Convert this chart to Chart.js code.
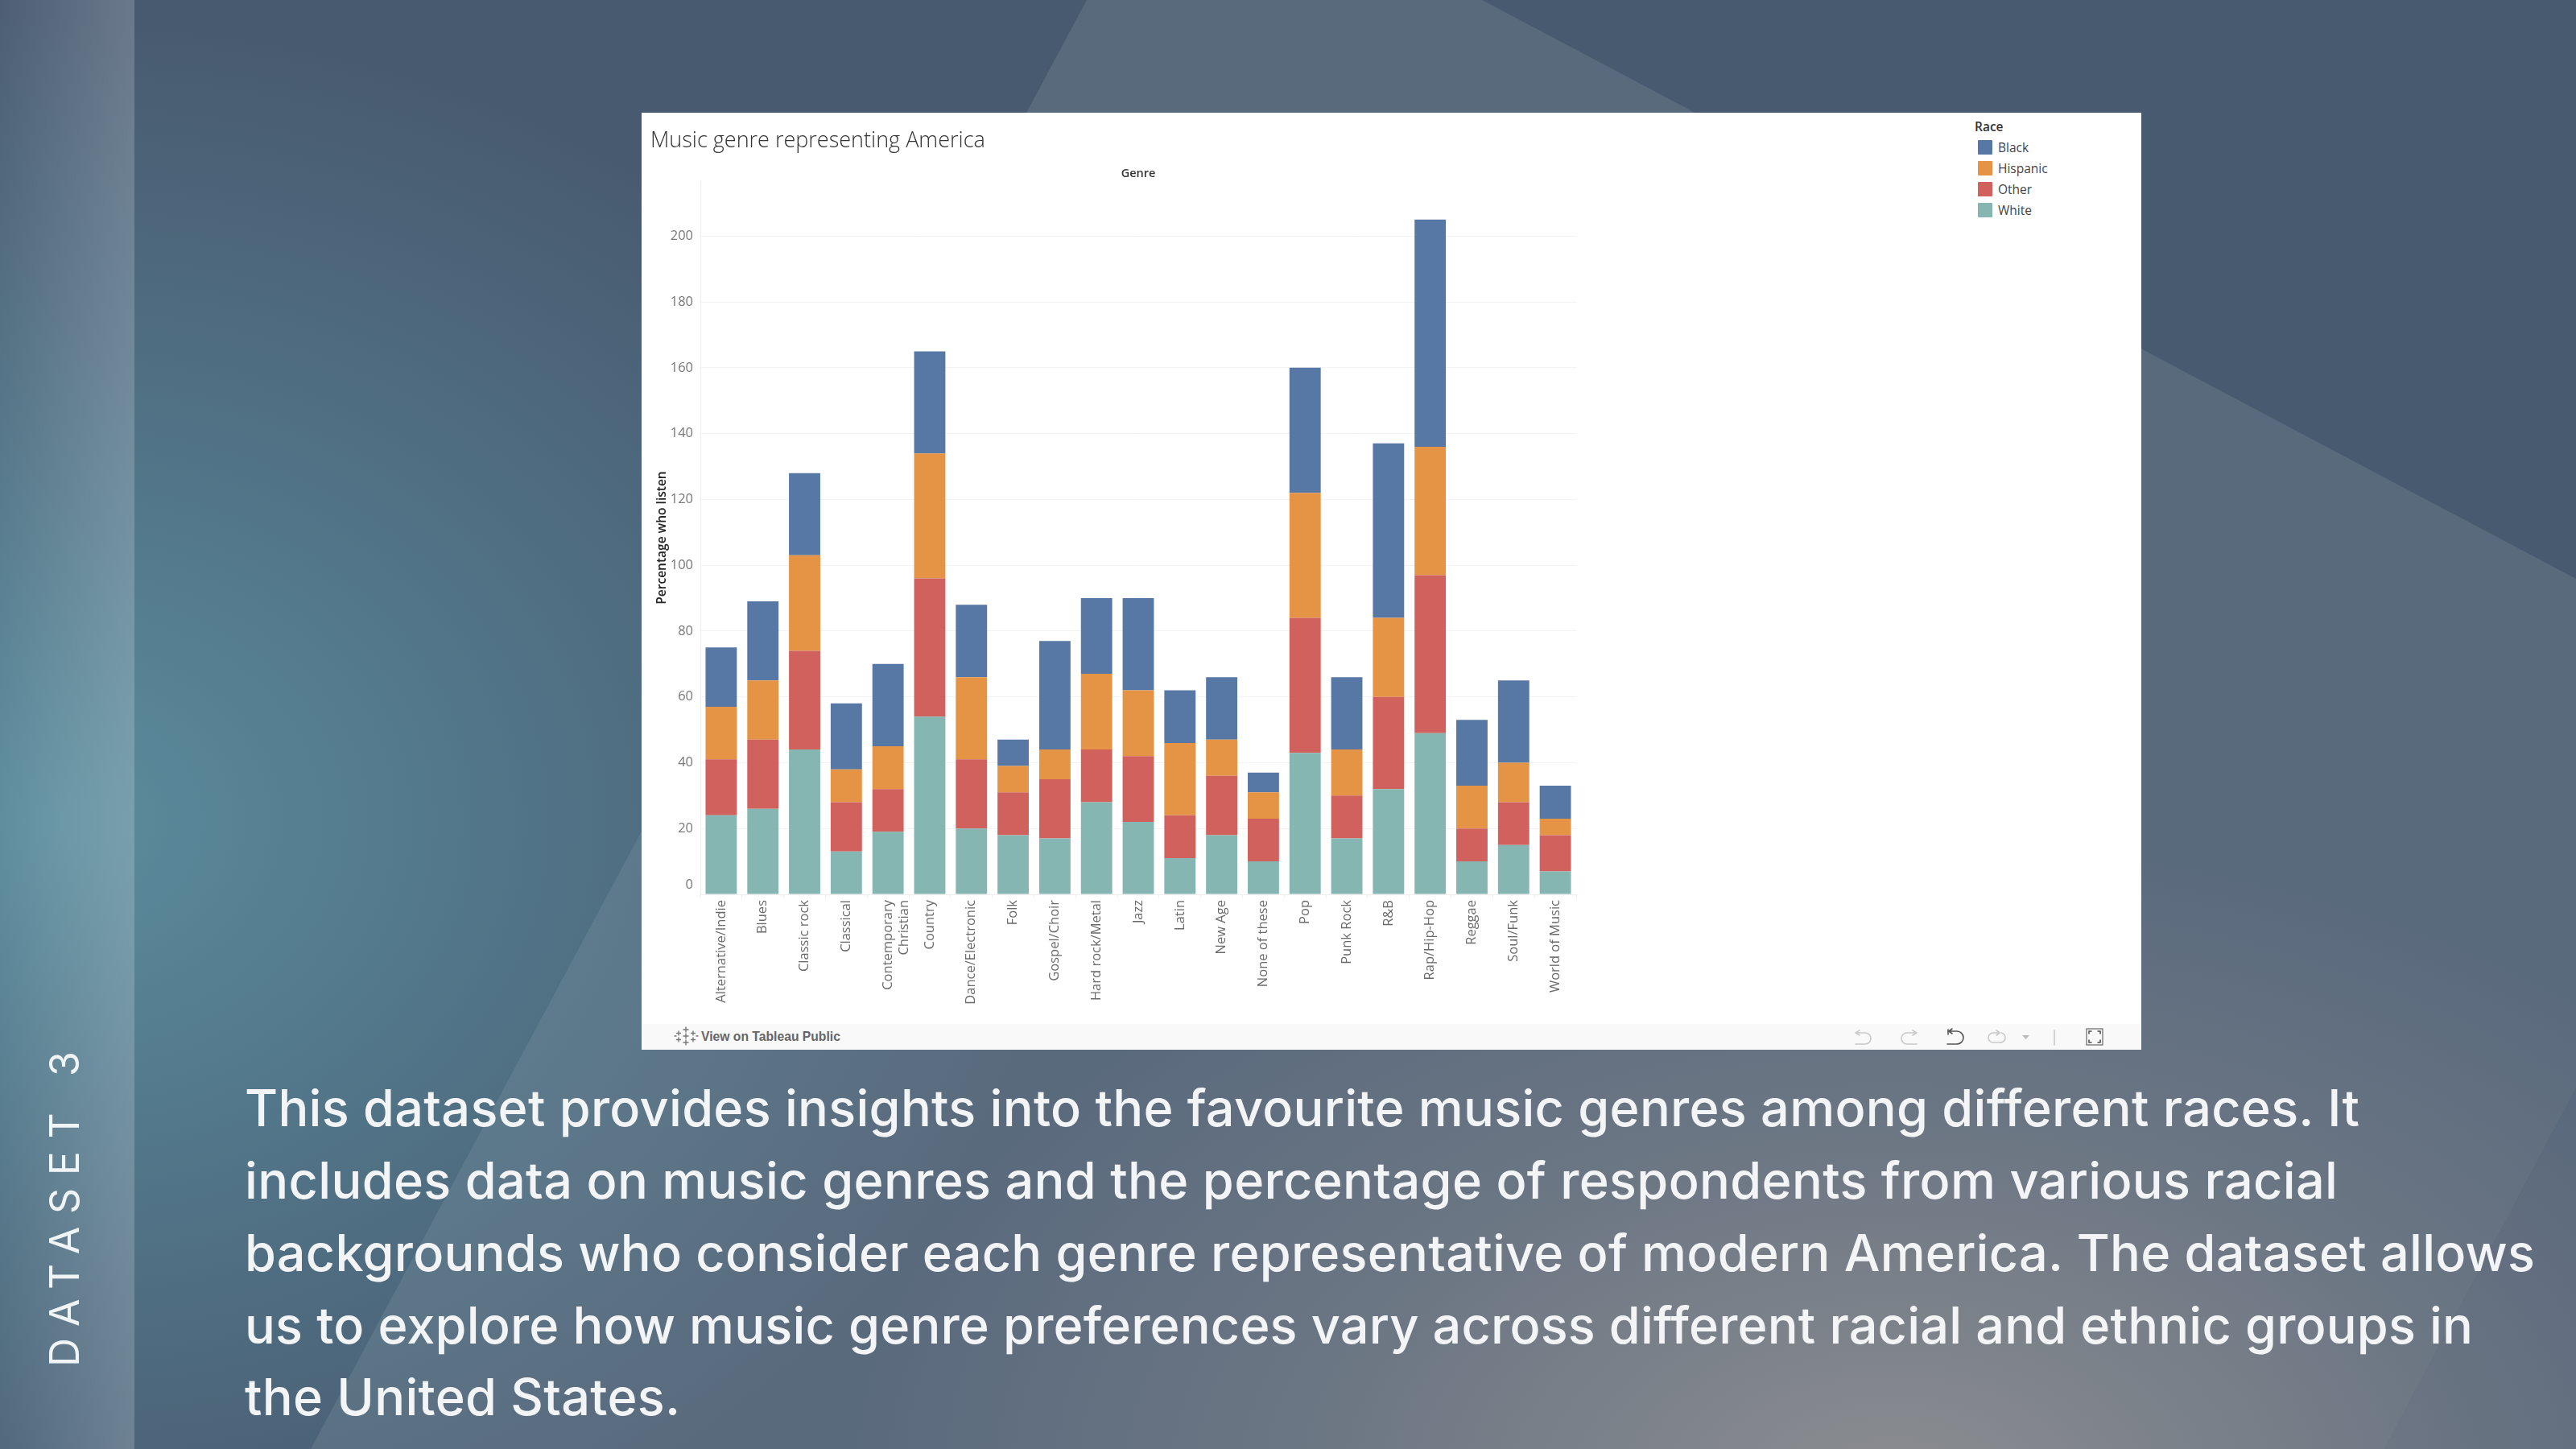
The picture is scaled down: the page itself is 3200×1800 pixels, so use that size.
<!DOCTYPE html>
<html>
<head>
<meta charset="utf-8">
<script src="https://cdn.jsdelivr.net/npm/chart.js@4"></script>
<style>
html,body{margin:0;padding:0;width:3200px;height:1800px;overflow:hidden;background:#485a70;}
.abs{position:absolute;}
#poly{left:0;top:0;width:3200px;height:1800px;background:#5a6a7d;
 clip-path:polygon(1350px 0,1841px 0,3200px 719px,3200px 1352px,2962px 1800px,386px 1800px);}
#corner{left:0;top:0;width:3200px;height:1800px;background:#55657a;
 clip-path:polygon(3200px 719px,3200px 1800px,2962px 1800px,3200px 1352px);}
#glow{left:0;top:0;width:3200px;height:1800px;
 background:
 radial-gradient(ellipse 1300px 820px at 2350px 1860px,rgba(160,155,152,.72),rgba(160,155,152,.26) 55%,rgba(160,155,152,0) 100%),
 radial-gradient(ellipse 1250px 1000px at 70px 1020px,rgba(98,160,175,.72),rgba(98,160,175,.34) 50%,rgba(98,160,175,0) 100%);}
#side{left:0;top:0;width:167px;height:1800px;background:linear-gradient(90deg,rgba(255,255,255,.03),rgba(255,255,255,.19));}
#card{left:797px;top:140px;width:1863px;height:1164px;background:#fff;}
#bar{left:797px;top:1272px;width:1863px;height:32px;background:#f9f9f9;}
canvas{position:absolute;left:797px;top:140px;}
.para{left:304px;color:#f3f4f6;font:500 63px Inter,sans-serif;white-space:nowrap;line-height:80px;}
#ds{left:105px;top:1698px;color:#f1f4f5;font:400 50px Inter,sans-serif;white-space:nowrap;transform-origin:0 0;transform:rotate(-90deg) translateY(-50px);line-height:50px;}
.lg{font:400 15.5px "Open Sans",sans-serif;color:#444;white-space:nowrap;line-height:18px;}
.sw{width:18px;height:18px;border-radius:1px;}
#lgt{left:2453px;top:147px;font:600 15.5px "Open Sans",sans-serif;color:#333;line-height:20px;}
#vt{left:871px;top:1278px;font:700 15.7px "Liberation Sans",sans-serif;color:#666;line-height:20px;white-space:nowrap;}
svg{position:absolute;overflow:visible;}
</style>
</head>
<body>
<div class="abs" id="poly"></div>
<div class="abs" id="corner"></div>
<div class="abs" id="glow"></div>
<div class="abs" id="side"></div>
<div class="abs" id="card"></div>
<div class="abs" id="bar"></div>
<canvas id="c" width="1173" height="1132"></canvas>
<div class="abs" id="lgt">Race</div>
<div id="legend"></div>
<div class="abs" id="vt">View on Tableau Public</div>
<div id="paragraph"></div>
<div class="abs" id="ds">DATASET 3</div>

<svg style="left:0;top:0" width="3200" height="1800" fill="none" stroke-linecap="round">
 <g stroke="#777" stroke-width="1.4">
  <path d="M852 1276v6M849 1279h6M852 1292v6M849 1295h6M843 1281v5M840.500 1283.500h5M861 1281v5M858.500 1283.500h5M843 1289v5M840.500 1291.500h5M861 1289v5M858.500 1291.500h5M852 1284v6M849 1287h6M838 1287h2M865 1287h2"/>
 </g>
 <g stroke="#c9c9c9" stroke-width="1.6">
  <path d="M2305 1283h12a6 6 0 0 1 0 14h-12M2305 1283l5-3M2305 1283l5 3"/>
  <path d="M2381 1283h-12a6 6 0 0 0 0 14h12M2381 1283l-5-3M2381 1283l-5 3"/>
  <path d="M2484 1283h-8a6 6 0 0 0 0 12h8a6 6 0 0 0 2-12M2484 1283l-4-3M2484 1283l-4 3"/>
  <path d="M2552 1280v18"/>
 </g>
 <path d="M2512 1286h9l-4.500 5z" fill="#bbb"/>
 <g stroke="#555" stroke-width="1.6">
  <path d="M2420 1279v6M2421 1281h10a7 7 0 0 1 0 16h-12M2421 1281l4-3M2421 1281l4 3"/>
  <rect x="2592" y="1278" width="20" height="20" stroke="#666" stroke-width="1.200"/>
  <path d="M2595 1284v-3h3M2609 1284v-3h-3M2595 1292v3h3M2609 1292v3h-3"/>
 </g>
</svg>

<script>
const categories = ["Alternative/Indie","Blues","Classic rock","Classical",["Contemporary","Christian"],"Country","Dance/Electronic","Folk","Gospel/Choir","Hard rock/Metal","Jazz","Latin","New Age","None of these","Pop","Punk Rock","R&B","Rap/Hip-Hop","Reggae","Soul/Funk","World of Music"];
const white    = [24,26,44,13,19,54,20,18,17,28,22,11,18,10,43,17,32,49,10,15,7];
const other    = [17,21,30,15,13,42,21,13,18,16,20,13,18,13,41,13,28,48,10,13,11];
const hispanic = [16,18,29,10,13,38,25, 8, 9,23,20,22,11, 8,38,14,24,39,13,12,5];
const black    = [18,24,25,20,25,31,22, 8,33,23,28,16,19, 6,38,22,53,69,20,25,10];
const legendNames = ["Black","Hispanic","Other","White"];
const legendColors = ["#5778a4","#e49444","#d1615d","#85b6b2"];
const paragraphLines = [
 "This dataset provides insights into the favourite music genres among different races. It",
 "includes data on music genres and the percentage of respondents from various racial",
 "backgrounds who consider each genre representative of modern America. The dataset allows",
 "us to explore how music genre preferences vary across different racial and ethnic groups in",
 "the United States."
];
const paragraphWidths = [2627,2600,2845,2768,541];
const paragraphBaselines = [1397,1487,1577,1666.500,1756];

function fit(el,target){
  const r=document.createElement('span');r.style.cssText='position:absolute;visibility:hidden;white-space:nowrap;font:'+getComputedStyle(el).font;
  r.textContent=el.textContent;document.body.appendChild(r);
  const w=r.getBoundingClientRect().width;r.remove();
  el.style.letterSpacing=((target-w)/(el.textContent.length-1))+'px';
}
const pHost=document.getElementById('paragraph');
paragraphLines.forEach((t,i)=>{
  const d=document.createElement('div');d.className='abs para';d.textContent=t;
  d.style.top=(paragraphBaselines[i]-61)+'px';pHost.appendChild(d);fit(d,paragraphWidths[i]);
});
fit(document.getElementById('ds'),392);
const lHost=document.getElementById('legend');
legendNames.forEach((n,i)=>{
  const s=document.createElement('div');s.className='abs sw';s.style.cssText+=';left:2457px;top:'+(174+26*i)+'px;background:'+legendColors[i];
  const t=document.createElement('div');t.className='abs lg';t.textContent=n;t.style.left='2482px';t.style.top=(174+26*i)+'px';
  lHost.appendChild(s);lHost.appendChild(t);
});

const tickFont={family:'"Open Sans",sans-serif',size:16.500,weight:400};
const shiftZero={id:'shiftZero',beforeDraw(chart){
  const y=chart.scales.y;
  y.getLabelItems().forEach(it=>{ if(it.label==='0'&&!it._s){it.options.translation[1]-=12;it._s=true;} });
}};
new Chart(document.getElementById('c'),{
  type:'bar',
  data:{labels:categories,datasets:[
    {label:"White",data:white,backgroundColor:legendColors[3]},
    {label:"Other",data:other,backgroundColor:legendColors[2]},
    {label:"Hispanic",data:hispanic,backgroundColor:legendColors[1]},
    {label:"Black",data:black,backgroundColor:legendColors[0]}
  ]},
  plugins:[shiftZero],
  options:{
    responsive:false,animation:false,
    layout:{padding:{left:11,right:12,top:0,bottom:0}},
    datasets:{bar:{barPercentage:.75,categoryPercentage:1,borderWidth:0}},
    plugins:{
      legend:{display:false},tooltip:{enabled:false},
      title:{display:true,text:"Music genre representing America",align:'start',color:'#333',
        font:{family:'"Open Sans",sans-serif',size:27,weight:300,lineHeight:1.2},padding:{top:19,bottom:0}}
    },
    scales:{
      x:{stacked:true,offset:true,
        afterFit(s){s.height=161;},
        grid:{drawOnChartArea:false,color:'#eee',tickLength:4,offset:true},
        border:{color:'#eee'},
        ticks:{color:'#6a6a6a',font:tickFont,minRotation:90,maxRotation:90,padding:3,autoSkip:false}},
      x2:{type:'category',labels:[''],position:'top',
        afterFit(s){s.height=33.600;},
        grid:{display:false},border:{display:false},ticks:{display:false},
        title:{display:true,text:"Genre",color:'#333',font:{family:'"Open Sans",sans-serif',size:14.500,weight:600},padding:{top:16,bottom:0}}},
      y:{stacked:true,min:0,max:216.700,
        afterFit(s){s.width=62;},
        grid:{color:'#f2f2f2',drawTicks:false},
        border:{color:'#eee'},
        ticks:{stepSize:20,includeBounds:false,color:'#777',font:tickFont,padding:9},
        title:{display:true,text:"Percentage who listen",color:'#222',font:{family:'"Open Sans",sans-serif',size:15.500,weight:600},padding:{top:5,bottom:0}}}
    }
  }
});
</script>
</body>
</html>
